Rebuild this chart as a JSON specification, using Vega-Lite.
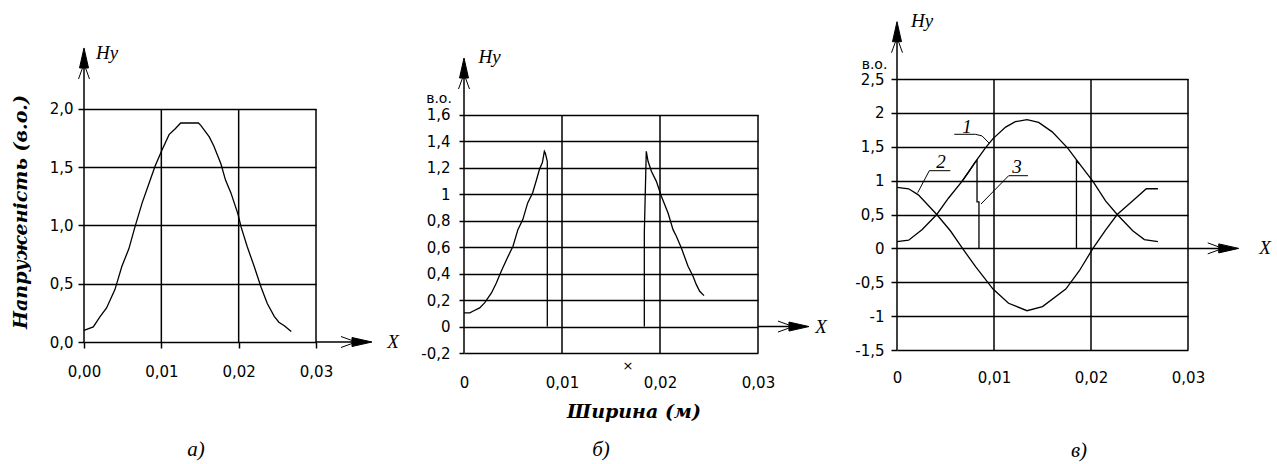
{
  "$schema": "https://vega.github.io/schema/vega-lite/v6.json",
  "padding": 0,
  "spacing": 0,
  "background": "white",
  "config": {
    "view": {"stroke": null},
    "axis": {"domain": false, "gridColor": "black", "gridOpacity": 1, "gridWidth": 1.5, "tickColor": "black", "tickWidth": 1.5, "labelFont": "DejaVu Sans", "labelFontSize": 15, "labelColor": "black", "labelFlush": false, "labelOverlap": false},
    "axisX": {"grid": false},
    "axisY": {"grid": true}
  },
  "datasets": {
    "curves": [
      {"p":"a","s":"a1","x":0,"y":0.1},{"p":"a","s":"a1","x":0.0012,"y":0.13},{"p":"a","s":"a1","x":0.0021,"y":0.22},{"p":"a","s":"a1","x":0.0029,"y":0.29},{"p":"a","s":"a1","x":0.004,"y":0.45},{"p":"a","s":"a1","x":0.0049,"y":0.65},{"p":"a","s":"a1","x":0.0058,"y":0.8},{"p":"a","s":"a1","x":0.0066,"y":0.99},{"p":"a","s":"a1","x":0.0075,"y":1.19},{"p":"a","s":"a1","x":0.0084,"y":1.36},{"p":"a","s":"a1","x":0.0092,"y":1.51},{"p":"a","s":"a1","x":0.0101,"y":1.65},{"p":"a","s":"a1","x":0.011,"y":1.78},{"p":"a","s":"a1","x":0.0118,"y":1.83},{"p":"a","s":"a1","x":0.0125,"y":1.88},{"p":"a","s":"a1","x":0.0148,"y":1.88},{"p":"a","s":"a1","x":0.0151,"y":1.86},{"p":"a","s":"a1","x":0.0162,"y":1.76},{"p":"a","s":"a1","x":0.0168,"y":1.68},{"p":"a","s":"a1","x":0.0177,"y":1.53},{"p":"a","s":"a1","x":0.0183,"y":1.39},{"p":"a","s":"a1","x":0.019,"y":1.28},{"p":"a","s":"a1","x":0.0199,"y":1.1},{"p":"a","s":"a1","x":0.0203,"y":0.99},{"p":"a","s":"a1","x":0.0211,"y":0.82},{"p":"a","s":"a1","x":0.022,"y":0.65},{"p":"a","s":"a1","x":0.0229,"y":0.47},{"p":"a","s":"a1","x":0.0237,"y":0.33},{"p":"a","s":"a1","x":0.0246,"y":0.22},{"p":"a","s":"a1","x":0.0252,"y":0.17},{"p":"a","s":"a1","x":0.0259,"y":0.14},{"p":"a","s":"a1","x":0.0268,"y":0.09},
      {"p":"b","s":"b1","x":0,"y":0.103},{"p":"b","s":"b1","x":0.0006,"y":0.103},{"p":"b","s":"b1","x":0.0009,"y":0.116},{"p":"b","s":"b1","x":0.0016,"y":0.141},{"p":"b","s":"b1","x":0.0021,"y":0.179},{"p":"b","s":"b1","x":0.0028,"y":0.254},{"p":"b","s":"b1","x":0.0033,"y":0.33},{"p":"b","s":"b1","x":0.0038,"y":0.418},{"p":"b","s":"b1","x":0.0045,"y":0.531},{"p":"b","s":"b1","x":0.005,"y":0.607},{"p":"b","s":"b1","x":0.0055,"y":0.733},{"p":"b","s":"b1","x":0.006,"y":0.809},{"p":"b","s":"b1","x":0.0065,"y":0.935},{"p":"b","s":"b1","x":0.007,"y":1.01},{"p":"b","s":"b1","x":0.0074,"y":1.11},{"p":"b","s":"b1","x":0.0077,"y":1.19},{"p":"b","s":"b1","x":0.008,"y":1.24},{"p":"b","s":"b1","x":0.0082,"y":1.325},{"p":"b","s":"b1","x":0.0083,"y":1.31},{"p":"b","s":"b1","x":0.0085,"y":1.25},{"p":"b","s":"b1","x":0.0085,"y":0},
      {"p":"b","s":"b2","x":0.0184,"y":0},{"p":"b","s":"b2","x":0.0184,"y":0.708},{"p":"b","s":"b2","x":0.0186,"y":1.325},{"p":"b","s":"b2","x":0.01878,"y":1.25},{"p":"b","s":"b2","x":0.01912,"y":1.174},{"p":"b","s":"b2","x":0.01963,"y":1.098},{"p":"b","s":"b2","x":0.02014,"y":0.985},{"p":"b","s":"b2","x":0.02082,"y":0.859},{"p":"b","s":"b2","x":0.02133,"y":0.733},{"p":"b","s":"b2","x":0.02167,"y":0.683},{"p":"b","s":"b2","x":0.02218,"y":0.594},{"p":"b","s":"b2","x":0.02286,"y":0.456},{"p":"b","s":"b2","x":0.02337,"y":0.38},{"p":"b","s":"b2","x":0.02371,"y":0.317},{"p":"b","s":"b2","x":0.02405,"y":0.267},{"p":"b","s":"b2","x":0.02449,"y":0.234},
      {"p":"c","s":"c1","x":0,"y":0.1},{"p":"c","s":"c1","x":0.0012,"y":0.12},{"p":"c","s":"c1","x":0.0026,"y":0.28},{"p":"c","s":"c1","x":0.0041,"y":0.5},{"p":"c","s":"c1","x":0.0053,"y":0.74},{"p":"c","s":"c1","x":0.0067,"y":0.99},{"p":"c","s":"c1","x":0.0081,"y":1.28},{"p":"c","s":"c1","x":0.0091,"y":1.48},{"p":"c","s":"c1","x":0.0099,"y":1.62},{"p":"c","s":"c1","x":0.0112,"y":1.79},{"p":"c","s":"c1","x":0.0122,"y":1.87},{"p":"c","s":"c1","x":0.0134,"y":1.9},{"p":"c","s":"c1","x":0.0146,"y":1.86},{"p":"c","s":"c1","x":0.016,"y":1.72},{"p":"c","s":"c1","x":0.0176,"y":1.48},{"p":"c","s":"c1","x":0.0188,"y":1.25},{"p":"c","s":"c1","x":0.0202,"y":0.99},{"p":"c","s":"c1","x":0.0215,"y":0.7},{"p":"c","s":"c1","x":0.0227,"y":0.5},{"p":"c","s":"c1","x":0.0243,"y":0.26},{"p":"c","s":"c1","x":0.0255,"y":0.13},{"p":"c","s":"c1","x":0.0269,"y":0.1},
      {"p":"c","s":"c2","x":0,"y":0.9},{"p":"c","s":"c2","x":0.0012,"y":0.88},{"p":"c","s":"c2","x":0.0022,"y":0.79},{"p":"c","s":"c2","x":0.0041,"y":0.5},{"p":"c","s":"c2","x":0.0055,"y":0.26},{"p":"c","s":"c2","x":0.0067,"y":0.01},{"p":"c","s":"c2","x":0.0081,"y":-0.27},{"p":"c","s":"c2","x":0.0099,"y":-0.6},{"p":"c","s":"c2","x":0.0115,"y":-0.81},{"p":"c","s":"c2","x":0.0134,"y":-0.92},{"p":"c","s":"c2","x":0.015,"y":-0.86},{"p":"c","s":"c2","x":0.0174,"y":-0.6},{"p":"c","s":"c2","x":0.0188,"y":-0.33},{"p":"c","s":"c2","x":0.0202,"y":0},{"p":"c","s":"c2","x":0.0215,"y":0.27},{"p":"c","s":"c2","x":0.0227,"y":0.5},{"p":"c","s":"c2","x":0.0246,"y":0.74},{"p":"c","s":"c2","x":0.0257,"y":0.88},{"p":"c","s":"c2","x":0.0269,"y":0.88},
      {"p":"c","s":"c3","x":0.0067,"y":0.99},{"p":"c","s":"c3","x":0.0074,"y":1.13},{"p":"c","s":"c3","x":0.0081,"y":1.28},{"p":"c","s":"c3","x":0.00825,"y":1.3},{"p":"c","s":"c3","x":0.00825,"y":0.685},{"p":"c","s":"c3","x":0.00845,"y":0.685},{"p":"c","s":"c3","x":0.00845,"y":0},
      {"p":"c","s":"c4","x":0.0185,"y":0},{"p":"c","s":"c4","x":0.0185,"y":1.29},{"p":"c","s":"c4","x":0.0188,"y":1.25}
    ],
    "leaders": [
      {"s":"1","x":0.005907,"y":1.684},{"s":"1","x":0.008082,"y":1.684},{"s":"1","x":0.008763,"y":1.66},{"s":"1","x":0.009484,"y":1.556},
      {"s":"2","x":0.002134,"y":0.822},{"s":"2","x":0.00333,"y":1.1465},{"s":"2","x":0.005495,"y":1.1465},
      {"s":"3","x":0.00866,"y":0.655},{"s":"3","x":0.011515,"y":1.0727},{"s":"3","x":0.013505,"y":1.0727}
    ],
    "axes": [
      {"p":"a","x":0,"y":0,"x2":0,"y2":2.45},{"p":"a","x":0.03,"y":0,"x2":0.0366,"y2":0},
      {"p":"a","x":0.01,"y":0,"x2":0.01,"y2":2},{"p":"a","x":0.02,"y":0,"x2":0.02,"y2":2},{"p":"a","x":0.03,"y":0,"x2":0.03,"y2":2},
      {"p":"b","x":0,"y":-0.2,"x2":0,"y2":1.97},{"p":"b","x":0.03,"y":0,"x2":0.0346,"y2":0},
      {"p":"b","x":0.01,"y":-0.2,"x2":0.01,"y2":1.6},{"p":"b","x":0.02,"y":-0.2,"x2":0.02,"y2":1.6},{"p":"b","x":0.03,"y":-0.2,"x2":0.03,"y2":1.6},
      {"p":"c","x":0,"y":-1.5,"x2":0,"y2":3.28},{"p":"c","x":0.03,"y":0,"x2":0.0346,"y2":0},
      {"p":"c","x":0.01,"y":-1.5,"x2":0.01,"y2":2.5},{"p":"c","x":0.02,"y":-1.5,"x2":0.02,"y2":2.5},{"p":"c","x":0.03,"y":-1.5,"x2":0.03,"y2":2.5}
    ],
    "box": [
      {"p":"a","x":-0.010862,"y":2.93562,"x2":0.042155,"y2":-1.04721},
      {"p":"b","x":-0.0054082,"y":2.4697,"x2":0.037959,"y2":-1.0395},
      {"p":"c","x":-0.0061856,"y":3.6661,"x2":0.039381,"y2":-3.1827}
    ],
    "arrows": [
      {"p":"a","d":"x","x":0.03724,"y":0},{"p":"a","d":"y","x":0,"y":2.524},
      {"p":"b","d":"x","x":0.0352,"y":0},{"p":"b","d":"y","x":0,"y":2.031},
      {"p":"c","d":"x","x":0.03523,"y":0},{"p":"c","d":"y","x":0,"y":3.346}
    ],
    "texts": [
      {"p":"a","k":"hy","t":"Hy","x":0.002974,"y":2.481},
      {"p":"a","k":"hy","t":"X","x":0.03996,"y":0},
      {"p":"a","k":"cap","t":"а)","x":0.01448,"y":-0.927},
      {"p":"a","k":"ttlv","t":"Напруженість (в.о.)","x":-0.008147,"y":1.116},
      {"p":"b","k":"hy","t":"Hy","x":0.002602,"y":2.0387},
      {"p":"b","k":"hy","t":"X","x":0.03643,"y":0},
      {"p":"b","k":"cap","t":"б)","x":0.01398,"y":-0.9336},
      {"p":"b","k":"ttl","t":"Ширина (м)","x":0.017347,"y":-0.6462},
      {"p":"b","k":"sans","t":"в.о.","x":-0.002551,"y":1.72},
      {"p":"b","k":"small","t":"×","x":0.01673,"y":-0.298},
      {"p":"c","k":"hy","t":"Hy","x":0.002577,"y":3.356},
      {"p":"c","k":"hy","t":"X","x":0.03794,"y":0},
      {"p":"c","k":"cap","t":"в)","x":0.01876,"y":-2.991},
      {"p":"c","k":"sans","t":"в.о.","x":-0.00232,"y":2.71},
      {"p":"c","k":"num","t":"1","x":0.007216,"y":1.71},
      {"p":"c","k":"num","t":"2","x":0.004536,"y":1.182},
      {"p":"c","k":"num","t":"3","x":0.01237,"y":1.108}
    ]
  },
  "hconcat": [
    {
      "width": 232,
      "height": 342,
      "encoding": {
        "x": {"field":"x","type":"quantitative","scale":{"domain":[0,0.03],"nice":false},"axis":{"title":null,"values":[0,0.01,0.02,0.03],"labelExpr":"replace(format(datum.value,'.2f'),'.',',')","tickSize":6,"labelPadding":16}},
        "y": {"field":"y","type":"quantitative","scale":{"domain":[0,2.93562],"nice":false},"axis":{"title":null,"values":[0,0.5,1,1.5,2],"labelExpr":"replace(format(datum.value,'.1f'),'.',',')","tickSize":6,"labelPadding":5}}
      },
      "layer": [
        {"data":{"name":"box"},"transform":[{"filter":"datum.p=='a'"}],"mark":{"type":"rule","opacity":0},"encoding":{"x2":{"field":"x2"},"y2":{"field":"y2"}}},
        {"data":{"name":"axes"},"transform":[{"filter":"datum.p=='a'"}],"mark":{"type":"rule","color":"black","strokeWidth":1.5},"encoding":{"x2":{"field":"x2"},"y2":{"field":"y2"}}},
        {"data":{"name":"curves"},"transform":[{"filter":"datum.p=='a'"}],"mark":{"type":"line","color":"black","strokeWidth":1.3},"encoding":{"detail":{"field":"s"},"order":{"value":null}}},
        {"data":{"name":"arrows"},"transform":[{"filter":"datum.p=='a' && datum.d=='x'"}],"mark":{"type":"point","shape":"M0,0L-2,-0.45L-2,0.45Z M-2,-0.15L-3.1,-0.55 M-2,0.15L-3.1,0.55","size":400,"filled":true,"fill":"black","stroke":"black","strokeWidth":1,"opacity":1,"angle":0}},
        {"data":{"name":"arrows"},"transform":[{"filter":"datum.p=='a' && datum.d=='y'"}],"mark":{"type":"point","shape":"M0,0L-2,-0.45L-2,0.45Z M-2,-0.15L-3.1,-0.55 M-2,0.15L-3.1,0.55","size":400,"filled":true,"fill":"black","stroke":"black","strokeWidth":1,"opacity":1,"angle":270}},
        {"data":{"name":"texts"},"transform":[{"filter":"datum.p=='a' && datum.k=='hy'"}],"mark":{"type":"text","font":"Liberation Serif","fontStyle":"italic","fontSize":19,"align":"center","baseline":"middle","color":"black"},"encoding":{"text":{"field":"t"}}},
        {"data":{"name":"texts"},"transform":[{"filter":"datum.p=='a' && datum.k=='cap'"}],"mark":{"type":"text","font":"Liberation Serif","fontStyle":"italic","fontSize":21,"align":"center","baseline":"middle","color":"black"},"encoding":{"text":{"field":"t"}}},
        {"data":{"name":"texts"},"transform":[{"filter":"datum.p=='a' && datum.k=='ttlv'"}],"mark":{"type":"text","font":"DejaVu Serif","fontStyle":"italic","fontWeight":"bold","fontSize":19,"align":"center","baseline":"middle","angle":270,"color":"black"},"encoding":{"text":{"field":"t"}}}
      ]
    },
    {
      "width": 294,
      "height": 353,
      "encoding": {
        "x": {"field":"x","type":"quantitative","scale":{"domain":[0,0.03],"nice":false},"axis":{"title":null,"values":[0,0.01,0.02,0.03],"labelExpr":"datum.value==0 ? '0' : replace(format(datum.value,'.2f'),'.',',')","ticks":false,"tickSize":0,"labelPadding":22}},
        "y": {"field":"y","type":"quantitative","scale":{"domain":[-0.2,2.4697],"nice":false},"axis":{"title":null,"values":[-0.2,0,0.2,0.4,0.6,0.8,1,1.2,1.4,1.6],"labelExpr":"replace(replace(format(datum.value,'.1~f'),'.',','),'−','-')","tickSize":5,"labelPadding":9}}
      },
      "layer": [
        {"data":{"name":"box"},"transform":[{"filter":"datum.p=='b'"}],"mark":{"type":"rule","opacity":0},"encoding":{"x2":{"field":"x2"},"y2":{"field":"y2"}}},
        {"data":{"name":"axes"},"transform":[{"filter":"datum.p=='b'"}],"mark":{"type":"rule","color":"black","strokeWidth":1.5},"encoding":{"x2":{"field":"x2"},"y2":{"field":"y2"}}},
        {"data":{"name":"curves"},"transform":[{"filter":"datum.p=='b'"}],"mark":{"type":"line","color":"black","strokeWidth":1.3},"encoding":{"detail":{"field":"s"},"order":{"value":null}}},
        {"data":{"name":"arrows"},"transform":[{"filter":"datum.p=='b' && datum.d=='x'"}],"mark":{"type":"point","shape":"M0,0L-2,-0.45L-2,0.45Z M-2,-0.15L-3.1,-0.55 M-2,0.15L-3.1,0.55","size":400,"filled":true,"fill":"black","stroke":"black","strokeWidth":1,"opacity":1,"angle":0}},
        {"data":{"name":"arrows"},"transform":[{"filter":"datum.p=='b' && datum.d=='y'"}],"mark":{"type":"point","shape":"M0,0L-2,-0.45L-2,0.45Z M-2,-0.15L-3.1,-0.55 M-2,0.15L-3.1,0.55","size":400,"filled":true,"fill":"black","stroke":"black","strokeWidth":1,"opacity":1,"angle":270}},
        {"data":{"name":"texts"},"transform":[{"filter":"datum.p=='b' && datum.k=='hy'"}],"mark":{"type":"text","font":"Liberation Serif","fontStyle":"italic","fontSize":19,"align":"center","baseline":"middle","color":"black"},"encoding":{"text":{"field":"t"}}},
        {"data":{"name":"texts"},"transform":[{"filter":"datum.p=='b' && datum.k=='cap'"}],"mark":{"type":"text","font":"Liberation Serif","fontStyle":"italic","fontSize":21,"align":"center","baseline":"middle","color":"black"},"encoding":{"text":{"field":"t"}}},
        {"data":{"name":"texts"},"transform":[{"filter":"datum.p=='b' && datum.k=='ttl'"}],"mark":{"type":"text","font":"DejaVu Serif","fontStyle":"italic","fontWeight":"bold","fontSize":19,"align":"center","baseline":"middle","color":"black"},"encoding":{"text":{"field":"t"}}},
        {"data":{"name":"texts"},"transform":[{"filter":"datum.p=='b' && datum.k=='sans'"}],"mark":{"type":"text","font":"DejaVu Sans","fontSize":14,"align":"center","baseline":"middle","color":"black"},"encoding":{"text":{"field":"t"}}},
        {"data":{"name":"texts"},"transform":[{"filter":"datum.p=='b' && datum.k=='small'"}],"mark":{"type":"text","font":"DejaVu Sans","fontSize":13,"align":"center","baseline":"middle","color":"black"},"encoding":{"text":{"field":"t"}}}
      ]
    },
    {
      "width": 291,
      "height": 350,
      "encoding": {
        "x": {"field":"x","type":"quantitative","scale":{"domain":[0,0.03],"nice":false},"axis":{"title":null,"values":[0,0.01,0.02,0.03],"labelExpr":"datum.value==0 ? '0' : replace(format(datum.value,'.2f'),'.',',')","ticks":false,"tickSize":0,"labelPadding":20}},
        "y": {"field":"y","type":"quantitative","scale":{"domain":[-1.5,3.6661],"nice":false},"axis":{"title":null,"values":[-1.5,-1,-0.5,0,0.5,1,1.5,2,2.5],"labelExpr":"replace(replace(format(datum.value,'.1~f'),'.',','),'−','-')","tickSize":6,"labelPadding":7}}
      },
      "layer": [
        {"data":{"name":"box"},"transform":[{"filter":"datum.p=='c'"}],"mark":{"type":"rule","opacity":0},"encoding":{"x2":{"field":"x2"},"y2":{"field":"y2"}}},
        {"data":{"name":"axes"},"transform":[{"filter":"datum.p=='c'"}],"mark":{"type":"rule","color":"black","strokeWidth":1.5},"encoding":{"x2":{"field":"x2"},"y2":{"field":"y2"}}},
        {"data":{"name":"curves"},"transform":[{"filter":"datum.p=='c'"}],"mark":{"type":"line","color":"black","strokeWidth":1.3},"encoding":{"detail":{"field":"s"},"order":{"value":null}}},
        {"data":{"name":"leaders"},"mark":{"type":"line","color":"black","strokeWidth":1},"encoding":{"detail":{"field":"s"},"order":{"value":null}}},
        {"data":{"name":"arrows"},"transform":[{"filter":"datum.p=='c' && datum.d=='x'"}],"mark":{"type":"point","shape":"M0,0L-2,-0.45L-2,0.45Z M-2,-0.15L-3.1,-0.55 M-2,0.15L-3.1,0.55","size":400,"filled":true,"fill":"black","stroke":"black","strokeWidth":1,"opacity":1,"angle":0}},
        {"data":{"name":"arrows"},"transform":[{"filter":"datum.p=='c' && datum.d=='y'"}],"mark":{"type":"point","shape":"M0,0L-2,-0.45L-2,0.45Z M-2,-0.15L-3.1,-0.55 M-2,0.15L-3.1,0.55","size":400,"filled":true,"fill":"black","stroke":"black","strokeWidth":1,"opacity":1,"angle":270}},
        {"data":{"name":"texts"},"transform":[{"filter":"datum.p=='c' && datum.k=='hy'"}],"mark":{"type":"text","font":"Liberation Serif","fontStyle":"italic","fontSize":19,"align":"center","baseline":"middle","color":"black"},"encoding":{"text":{"field":"t"}}},
        {"data":{"name":"texts"},"transform":[{"filter":"datum.p=='c' && datum.k=='num'"}],"mark":{"type":"text","font":"Liberation Serif","fontStyle":"italic","fontSize":19,"align":"center","baseline":"alphabetic","color":"black"},"encoding":{"text":{"field":"t"}}},
        {"data":{"name":"texts"},"transform":[{"filter":"datum.p=='c' && datum.k=='cap'"}],"mark":{"type":"text","font":"Liberation Serif","fontStyle":"italic","fontSize":21,"align":"center","baseline":"middle","color":"black"},"encoding":{"text":{"field":"t"}}},
        {"data":{"name":"texts"},"transform":[{"filter":"datum.p=='c' && datum.k=='sans'"}],"mark":{"type":"text","font":"DejaVu Sans","fontSize":14,"align":"center","baseline":"middle","color":"black"},"encoding":{"text":{"field":"t"}}}
      ]
    }
  ]
}
